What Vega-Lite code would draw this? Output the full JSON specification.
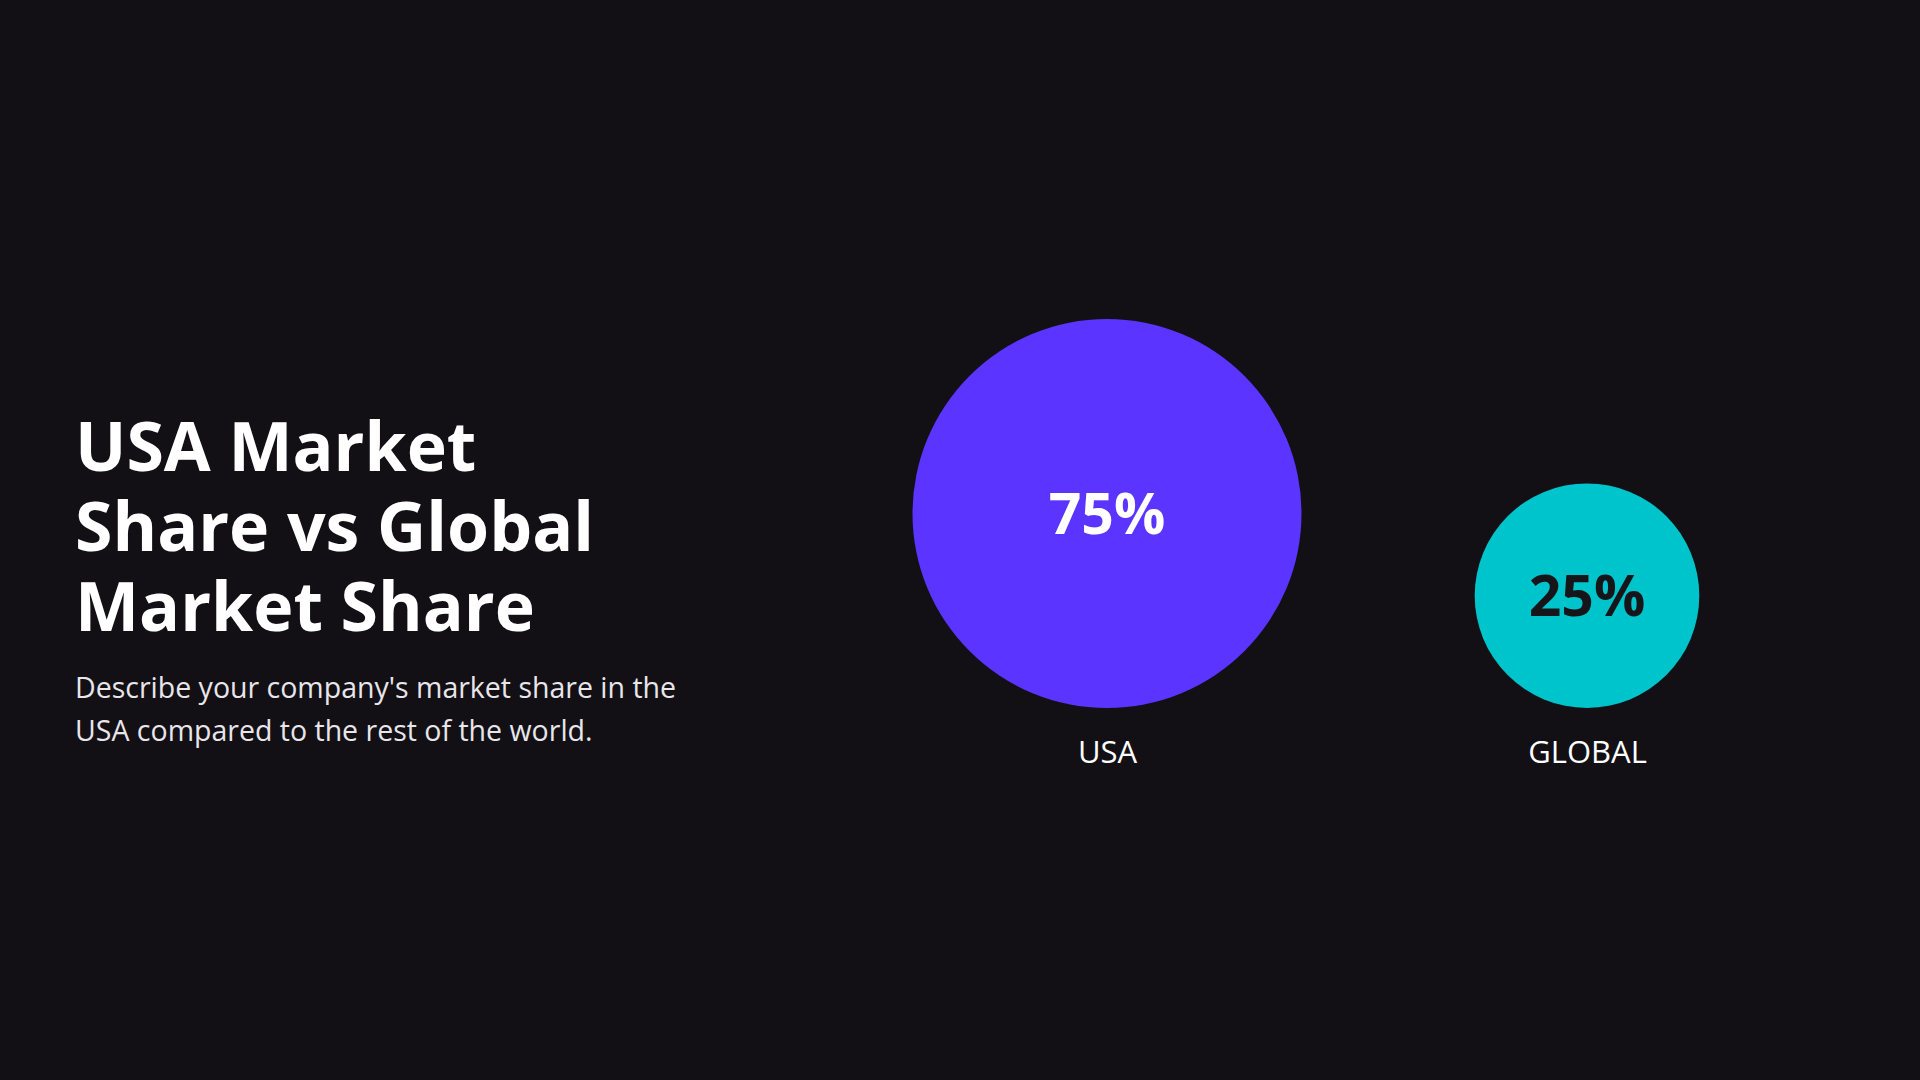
{
  "$schema": "https://vega.github.io/schema/vega-lite/v6.json",
  "width": 1920,
  "height": 1080,
  "autosize": {"type": "none"},
  "padding": 0,
  "background": "#121015",
  "config": {"view": {"stroke": null}},
  "title": {
    "text": ["USA Market", "Share vs Global", "Market Share"],
    "subtitle": ["Describe your company's market share in the", "USA compared to the rest of the world."],
    "anchor": "start",
    "frame": "group",
    "orient": "top",
    "font": "Open Sans",
    "fontSize": 68,
    "fontWeight": "bold",
    "color": "#ffffff",
    "lineHeight": 80,
    "subtitleFont": "Open Sans",
    "subtitleFontSize": 28.5,
    "subtitleColor": "#e8e6ea",
    "subtitleLineHeight": 43,
    "subtitlePadding": 30,
    "offset": 0,
    "dx": 75,
    "dy": 746
  },
  "data": {
    "values": [
      {"region": "USA", "share": 0.75},
      {"region": "GLOBAL", "share": 0.25}
    ]
  },
  "encoding": {
    "x": {
      "field": "region",
      "type": "nominal",
      "sort": ["USA", "GLOBAL"],
      "scale": {"type": "point", "domain": ["USA", "GLOBAL"], "range": [1107, 1587], "padding": 0},
      "axis": {
        "title": null,
        "domain": false,
        "ticks": false,
        "tickSize": 0,
        "grid": false,
        "labelPadding": 0,
        "labelBaseline": "alphabetic",
        "labelFont": "Open Sans",
        "labelFontSize": 31,
        "labelColor": "#ffffff",
        "labelAngle": 0,
        "offset": -318
      }
    },
    "y": {
      "field": "share",
      "type": "quantitative",
      "scale": {"type": "sqrt", "domain": [0, 0.75], "range": [708, 513.5]},
      "axis": null
    }
  },
  "layer": [
    {
      "mark": {"type": "circle", "opacity": 1},
      "encoding": {
        "size": {
          "field": "share",
          "type": "quantitative",
          "scale": {"domain": [0, 0.75], "range": [0, 151321]},
          "legend": null
        },
        "color": {
          "field": "region",
          "type": "nominal",
          "scale": {"domain": ["USA", "GLOBAL"], "range": ["#5B34FF", "#00C4CB"]},
          "legend": null
        }
      }
    },
    {
      "mark": {
        "type": "text",
        "font": "Open Sans",
        "fontWeight": "bold",
        "fontSize": 57,
        "baseline": "middle",
        "align": "center",
        "dy": 3
      },
      "encoding": {
        "text": {"field": "share", "type": "quantitative", "format": ".0%"},
        "color": {
          "condition": {"test": "datum.region === 'USA'", "value": "#ffffff"},
          "value": "#16151a"
        }
      }
    }
  ]
}
